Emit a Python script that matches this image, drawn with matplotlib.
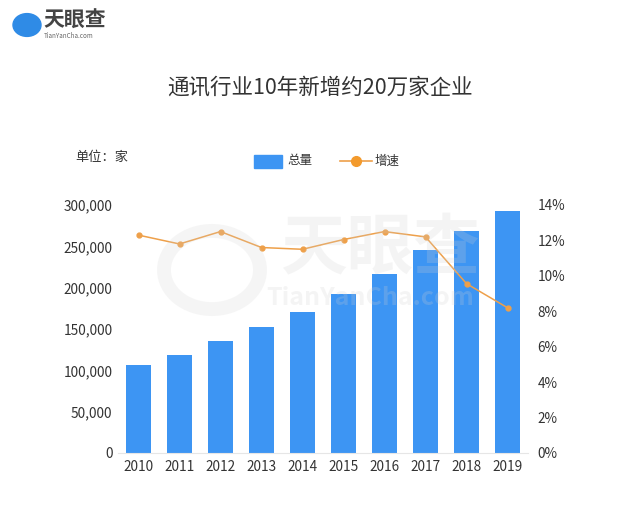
import matplotlib
matplotlib.use("Agg")
import matplotlib.pyplot as plt
from matplotlib.patches import Circle, Rectangle
from matplotlib.lines import Line2D
from matplotlib.ticker import FuncFormatter, MultipleLocator

plt.rcParams['font.family'] = ['Noto Sans CJK SC', 'DejaVu Sans']

# data
years = ['2010', '2011', '2012', '2013', '2014', '2015', '2016', '2017', '2018', '2019']
totals = [106000, 119000, 135000, 152000, 170000, 192000, 217000, 245000, 269000, 293000]
growth = [12.3, 11.8, 12.5, 11.6, 11.5, 12.05, 12.5, 12.2, 9.56, 8.2]

title = '通讯行业10年新增约20万家企业'
unit_label = '单位：家'
bar_name = '总量'
line_name = '增速'

BLUE = '#3d95f3'
ORANGE = '#eea04a'
TEXT = '#333333'

fig = plt.figure(figsize=(6.4, 5.21), dpi=100)
ax = fig.add_axes([118 / 640, (521 - 453) / 521, 410 / 640, 248 / 521])
ax2 = ax.twinx()

x = list(range(len(years)))
ax.bar(x, totals, width=0.61, color=BLUE, zorder=2)
ax.set_xlim(-0.5, len(years) - 0.5)
ax.set_ylim(0, 300000)
ax.yaxis.set_major_locator(MultipleLocator(50000))
ax.yaxis.set_major_formatter(FuncFormatter(lambda v, p: f'{int(v):,}'))
ax.set_xticks(x)
ax.set_xticklabels(years)

ax2.plot(x, growth, color=ORANGE, lw=1.1, marker='o', ms=3.5, zorder=3)
ax2.set_ylim(0, 14)
ax2.yaxis.set_major_locator(MultipleLocator(2))
ax2.yaxis.set_major_formatter(FuncFormatter(lambda v, p: f'{int(v)}%'))

for a in (ax, ax2):
    for s in a.spines.values():
        s.set_visible(False)
    a.tick_params(length=0, labelsize=9.8, colors=TEXT)
ax.tick_params(axis='y', pad=4)
ax.tick_params(axis='x', pad=5)
ax2.tick_params(axis='y', pad=7)
ax.spines['bottom'].set_visible(True)
ax.spines['bottom'].set_color('#e6e6e6')

# title, unit and legend
fig.text(0.5, 1 - 88 / 521, title, ha='center', va='center', fontsize=15.5, color=TEXT)
fig.text(75 / 640, 1 - 157 / 521, unit_label, ha='left', va='center', fontsize=9.5, color=TEXT)
fig.patches.append(Rectangle((254 / 640, 1 - 168 / 521), 28 / 640, 13 / 521,
                             transform=fig.transFigure, color=BLUE))
fig.text(287 / 640, 1 - 161 / 521, bar_name, ha='left', va='center', fontsize=9, color=TEXT)
fig.lines.append(Line2D([340 / 640, 372 / 640], [1 - 161 / 521] * 2, transform=fig.transFigure,
                        color=ORANGE, lw=1.2, marker=None))
fig.lines.append(Line2D([356 / 640], [1 - 161 / 521], transform=fig.transFigure,
                        color='#f39a2c', marker='o', ms=7))
fig.text(375 / 640, 1 - 161 / 521, line_name, ha='left', va='center', fontsize=9, color=TEXT)

# logo top-left
fig.patches.append(Circle((27 / 640, 1 - 25 / 521), 14 / 640, transform=fig.transFigure,
                          color='#2f8be6'))
fig.text(43 / 640, 1 - 20 / 521, '天眼查', ha='left', va='center', fontsize=15,
         fontweight='bold', color='#444444')
fig.text(44 / 640, 1 - 36 / 521, 'TianYanCha.com', ha='left', va='center', fontsize=4.5,
         color='#666666')

# faint watermark
fig.patches.append(Circle((212 / 640, 1 - 270 / 521), 48 / 640, transform=fig.transFigure,
                          fill=False, lw=10, color='#d0d0d0', alpha=0.2, zorder=10))
fig.text(380 / 640, 1 - 250 / 521, '天眼查', ha='center', va='center', fontsize=48,
         fontweight='bold', color='#d0d0d0', alpha=0.22, zorder=10)
fig.text(370 / 640, 1 - 298 / 521, 'TianYanCha.com', ha='center', va='center', fontsize=18,
         fontweight='bold', color='#d0d0d0', alpha=0.22, zorder=10)

fig.savefig('out.png', dpi=100, facecolor='white')
